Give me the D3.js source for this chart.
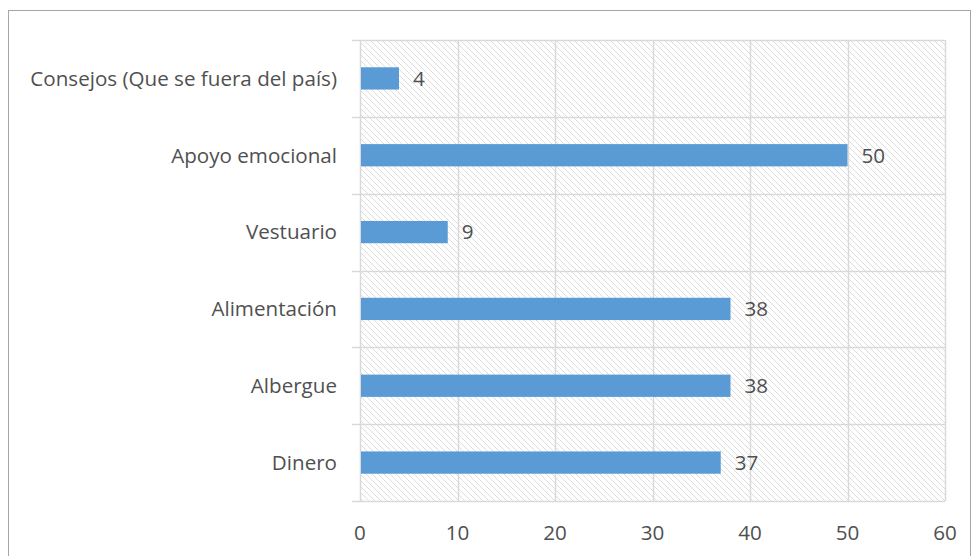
<!DOCTYPE html>
<html>
<head>
<meta charset="utf-8">
<script src="https://cdn.jsdelivr.net/npm/d3@7"></script>
<style>
  body { margin: 0; background: #fff; }
  text { font-family: "Open Sans", sans-serif; fill: #505050; }
</style>
</head>
<body>
<div id="chart"></div>
<script>
var categories = ["Consejos (Que se fuera del país)", "Apoyo emocional", "Vestuario", "Alimentación", "Albergue", "Dinero"];
var values = [4, 50, 9, 38, 38, 37];
var xTicks = [0, 10, 20, 30, 40, 50, 60];

var width = 972, height = 556;
var plotLeft = 360, plotRight = 945, plotTop = 40, plotBottom = 501;
var fontSize = "20.6px";

var svg = d3.select("#chart").append("svg")
    .attr("width", width)
    .attr("height", height);

// diagonal hatch fill of the plot area
var pat = svg.append("defs").append("pattern")
    .attr("id", "hatch")
    .attr("patternUnits", "userSpaceOnUse")
    .attr("width", 6)
    .attr("height", 6);
pat.append("path")
    .attr("d", "M-1,-1 L7,7 M-1,5 L1,7 M5,-1 L7,1")
    .attr("stroke", "#dcdcdc")
    .attr("stroke-width", 1);

svg.append("rect")
    .attr("x", 8.5).attr("y", 10.5)
    .attr("width", 962).attr("height", 600)
    .attr("fill", "none")
    .attr("stroke", "#a6a6a6");

var x = d3.scaleLinear().domain([0, 60]).range([plotLeft, plotRight]);
var y = d3.scaleBand().domain(categories).range([plotTop, plotBottom]).paddingInner(0.71).paddingOuter(0.355);
var yGrid = d3.scaleBand().domain(categories).range([plotTop, plotBottom]);

svg.append("rect")
    .attr("x", plotLeft).attr("y", plotTop)
    .attr("width", plotRight - plotLeft).attr("height", plotBottom - plotTop)
    .attr("fill", "url(#hatch)");

// vertical gridlines
svg.append("g").selectAll("line")
    .data(xTicks)
    .enter().append("line")
    .attr("x1", d => Math.round(x(d)) + 0.5)
    .attr("x2", d => Math.round(x(d)) + 0.5)
    .attr("y1", plotTop).attr("y2", plotBottom)
    .attr("stroke", "#d9d9d9")
    .attr("stroke-width", 1.5);

// horizontal lines between categories
var hLines = categories.map(c => yGrid(c));
hLines.push(plotBottom);
svg.append("g").selectAll("line")
    .data(hLines)
    .enter().append("line")
    .attr("x1", plotLeft - 8).attr("x2", plotRight)
    .attr("y1", d => Math.round(d) + 0.5)
    .attr("y2", d => Math.round(d) + 0.5)
    .attr("stroke", "#d9d9d9")
    .attr("stroke-width", 1.5);

svg.append("g").selectAll("rect")
    .data(values)
    .enter().append("rect")
    .attr("x", x(0) + 1)
    .attr("y", (d, i) => y(categories[i]))
    .attr("width", d => x(d) - x(0) - 1)
    .attr("height", y.bandwidth())
    .attr("fill", "#5b9bd5");

svg.append("g").selectAll("text")
    .data(values)
    .enter().append("text")
    .attr("x", d => x(d) + 14)
    .attr("y", (d, i) => y(categories[i]) + y.bandwidth() / 2)
    .attr("dy", "0.36em")
    .style("font-size", fontSize)
    .text(d => d);

// category labels
svg.append("g").selectAll("text")
    .data(categories)
    .enter().append("text")
    .attr("x", 337)
    .attr("y", d => yGrid(d) + yGrid.bandwidth() / 2)
    .attr("dy", "0.36em")
    .attr("text-anchor", "end")
    .style("font-size", fontSize)
    .text(d => d);

// x tick labels
svg.append("g").selectAll("text")
    .data(xTicks)
    .enter().append("text")
    .attr("x", d => x(d))
    .attr("y", 533)
    .attr("dy", "0.36em")
    .attr("text-anchor", "middle")
    .style("font-size", fontSize)
    .text(d => d);
</script>
</body>
</html>
